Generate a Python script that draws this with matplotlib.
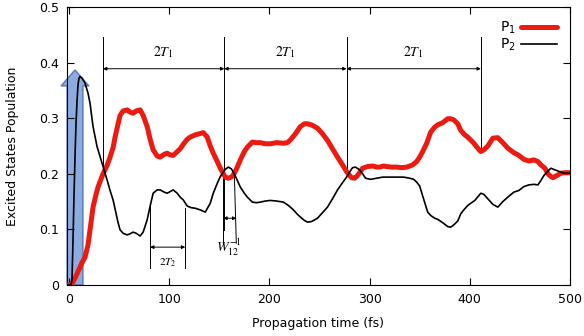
import matplotlib
matplotlib.use("Agg")
import matplotlib.pyplot as plt
from matplotlib.patches import FancyArrow

# ---- data ----
t1 = [-2, 0, 3, 6, 9, 11, 13, 16, 19, 21, 24, 27, 29, 31, 34, 38, 41, 44, 46, 49, 51, 54, 58, 61,
      64, 67, 71, 74, 78, 81, 84, 88, 91, 95, 98, 101, 104, 108, 111, 114, 118, 121, 126, 130, 134,
      138, 141, 144, 148, 151, 154, 156, 159, 162, 164, 167, 171, 175, 178, 183, 187, 191, 196, 201,
      207, 214, 218, 221, 226, 231, 235, 238, 242, 248, 253, 258, 263, 268, 273, 277, 280, 282, 285,
      287, 290, 293, 298, 303, 307, 310, 314, 317, 322, 327, 332, 337, 340, 343, 347, 350, 353, 357,
      361, 365, 368, 373, 378, 381, 384, 388, 391, 395, 398, 404, 408, 411, 414, 418, 423, 428, 433,
      438, 444, 449, 454, 459, 464, 468, 471, 475, 478, 481, 483, 487, 491, 495, 501]
p1 = [0.0, 0.0, 0.002, 0.012, 0.024, 0.032, 0.040, 0.050, 0.072, 0.099, 0.140, 0.163, 0.176, 0.186,
      0.200, 0.215, 0.230, 0.247, 0.266, 0.290, 0.305, 0.313, 0.315, 0.311, 0.309, 0.313, 0.315,
      0.305, 0.285, 0.262, 0.243, 0.232, 0.230, 0.235, 0.237, 0.234, 0.233, 0.240, 0.245, 0.253,
      0.262, 0.266, 0.270, 0.272, 0.274, 0.266, 0.250, 0.237, 0.222, 0.210, 0.200, 0.194, 0.192,
      0.194, 0.198, 0.208, 0.225, 0.240, 0.248, 0.257, 0.256, 0.256, 0.254, 0.254, 0.256, 0.255,
      0.256, 0.261, 0.272, 0.285, 0.290, 0.290, 0.288, 0.282, 0.272, 0.260, 0.245, 0.230, 0.216,
      0.204, 0.197, 0.193, 0.192, 0.195, 0.202, 0.210, 0.213, 0.214, 0.212, 0.212, 0.214, 0.213,
      0.212, 0.212, 0.211, 0.212, 0.214, 0.216, 0.222, 0.230, 0.240, 0.255, 0.275, 0.284, 0.288,
      0.292, 0.299, 0.299, 0.297, 0.290, 0.278, 0.270, 0.266, 0.255, 0.246, 0.240, 0.243, 0.250,
      0.264, 0.265, 0.256, 0.246, 0.238, 0.233, 0.226, 0.223, 0.225, 0.222, 0.216, 0.210, 0.200,
      0.195, 0.193, 0.197, 0.201, 0.202, 0.202]

t2 = [-2, 0, 2, 3, 4, 5, 6, 7, 8, 9, 10, 11, 13, 16, 19, 21, 24, 28, 33, 38, 41, 44, 49, 51, 54,
      58, 61, 64, 67, 71, 74, 78, 81, 84, 88, 91, 95, 98, 101, 104, 108, 111, 114, 118, 122, 126,
      131, 136, 141, 144, 148, 151, 154, 156, 159, 162, 164, 167, 171, 175, 178, 183, 187, 191, 196,
      201, 207, 214, 219, 224, 228, 231, 235, 238, 242, 248, 253, 258, 263, 268, 273, 277, 280, 283,
      286, 290, 293, 296, 301, 307, 313, 320, 327, 334, 340, 344, 347, 350, 353, 358, 361, 365, 368,
      373, 378, 381, 384, 388, 391, 394, 398, 401, 405, 411, 414, 418, 423, 428, 433, 438, 444, 449,
      454, 459, 464, 468, 471, 474, 478, 481, 485, 488, 494, 501]
p2 = [0.0, 0.0, 0.0, 0.01, 0.08, 0.16, 0.23, 0.29, 0.33, 0.36, 0.372, 0.375, 0.372, 0.363, 0.345,
      0.327, 0.285, 0.249, 0.219, 0.189, 0.170, 0.153, 0.112, 0.099, 0.093, 0.090, 0.092, 0.095,
      0.093, 0.088, 0.095, 0.117, 0.142, 0.165, 0.171, 0.171, 0.167, 0.165, 0.168, 0.171, 0.165,
      0.158, 0.153, 0.142, 0.139, 0.138, 0.135, 0.131, 0.147, 0.165, 0.183, 0.195, 0.203, 0.208,
      0.212, 0.209, 0.203, 0.192, 0.176, 0.165, 0.158, 0.149, 0.148, 0.149, 0.151, 0.152, 0.151,
      0.149, 0.143, 0.135, 0.127, 0.122, 0.116, 0.113, 0.114, 0.120, 0.130, 0.140, 0.155, 0.171,
      0.184, 0.194, 0.203, 0.211, 0.212, 0.207, 0.200, 0.192, 0.190, 0.192, 0.194, 0.194, 0.194,
      0.194, 0.192, 0.190, 0.185, 0.178, 0.160, 0.131, 0.125, 0.120, 0.118, 0.112, 0.105, 0.104,
      0.108, 0.115, 0.128, 0.135, 0.143, 0.147, 0.152, 0.165, 0.163, 0.155, 0.145, 0.140, 0.150,
      0.158, 0.167, 0.170, 0.177, 0.180, 0.181, 0.180, 0.188, 0.197, 0.205, 0.210, 0.207, 0.205,
      0.201, 0.201]

x_ticks = [0, 100, 200, 300, 400, 500]
x_tick_labels = ["0", "100", "200", "300", "400", "500"]
y_ticks = [0, 0.1, 0.2, 0.3, 0.4, 0.5]
y_tick_labels = ["0", "0.1", "0.2", "0.3", "0.4", "0.5"]

# period markers (fs) and the level where each vertical guide ends
period_marks = [34, 155, 277, 411]
period_ends = [0.200, 0.099, 0.205, 0.240]
t2_marks = [81, 116]
w12_marks = [154, 167]

fig = plt.figure(figsize=(5.84, 3.36), dpi=100)
ax = fig.add_axes([0.1147, 0.152, 0.8613, 0.827])

# pump arrow
ax.add_patch(FancyArrow(6, 0, 0, 0.358, width=16, head_width=28, head_length=0.029,
                        length_includes_head=False, facecolor="#4f7fd0", edgecolor="#2a4f9a",
                        alpha=0.65, lw=1.0, zorder=1, clip_on=False))

ax.plot(t1, p1, color="#ec1a10", lw=3.6, solid_capstyle="round", label=r"P$_1$", zorder=3)
ax.plot(t2, p2, color="black", lw=1.2, label=r"P$_2$", zorder=4)

# 2T1 guides
for tm, ye in zip(period_marks, period_ends):
    ax.plot([tm, tm], [ye, 0.446], color="black", lw=0.7, zorder=2)
arrowprops = dict(arrowstyle="<|-|>", color="black", lw=0.7, mutation_scale=5, shrinkA=0, shrinkB=0)
for a, b in zip(period_marks[:-1], period_marks[1:]):
    ax.annotate("", xy=(a, 0.389), xytext=(b, 0.389), arrowprops=arrowprops)
    ax.text((a + b) / 2, 0.404, r"$2T_1$", ha="center", va="bottom", fontsize=10,
            math_fontfamily="stix")

# 2T2
for tm, ys in zip(t2_marks, [0.142, 0.138]):
    ax.plot([tm, tm], [0.030, ys], color="black", lw=0.7, zorder=2)
ax.annotate("", xy=(t2_marks[0], 0.068), xytext=(t2_marks[1], 0.068), arrowprops=arrowprops)
ax.text(sum(t2_marks) / 2, 0.040, r"$2T_2$", ha="center", va="center", fontsize=8,
        math_fontfamily="stix")

# W12^-1
ax.plot([w12_marks[0], w12_marks[0]], [0.075, 0.205], color="black", lw=0.7, zorder=2)
ax.plot([w12_marks[1], w12_marks[1] - 2], [0.075, 0.200], color="black", lw=0.7, zorder=2)
ax.annotate("", xy=(w12_marks[0], 0.120), xytext=(w12_marks[1], 0.120), arrowprops=arrowprops)
ax.text(159, 0.068, r"$W_{12}^{-1}$", ha="center", va="center", fontsize=10,
        math_fontfamily="stix")

ax.set_xlim(-2, 500)
ax.set_ylim(0, 0.5)
ax.set_xticks(x_ticks)
ax.set_xticklabels(x_tick_labels)
ax.set_yticks(y_ticks)
ax.set_yticklabels(y_tick_labels)
ax.tick_params(direction="in", top=True, right=True, length=5, width=0.8, labelsize=9,
               colors="black", pad=6)
for s in ax.spines.values():
    s.set_linewidth(0.8)
ax.set_xlabel("Propagation time (fs)", fontsize=9, labelpad=8)
ax.set_ylabel("Excited States Population", fontsize=9, labelpad=14)

ax.legend(loc="upper right", frameon=False, markerfirst=False, fontsize=10, handlelength=2.6,
          handletextpad=0.4, labelspacing=0.05, borderaxespad=0.5)

fig.savefig("out.png", dpi=100)
